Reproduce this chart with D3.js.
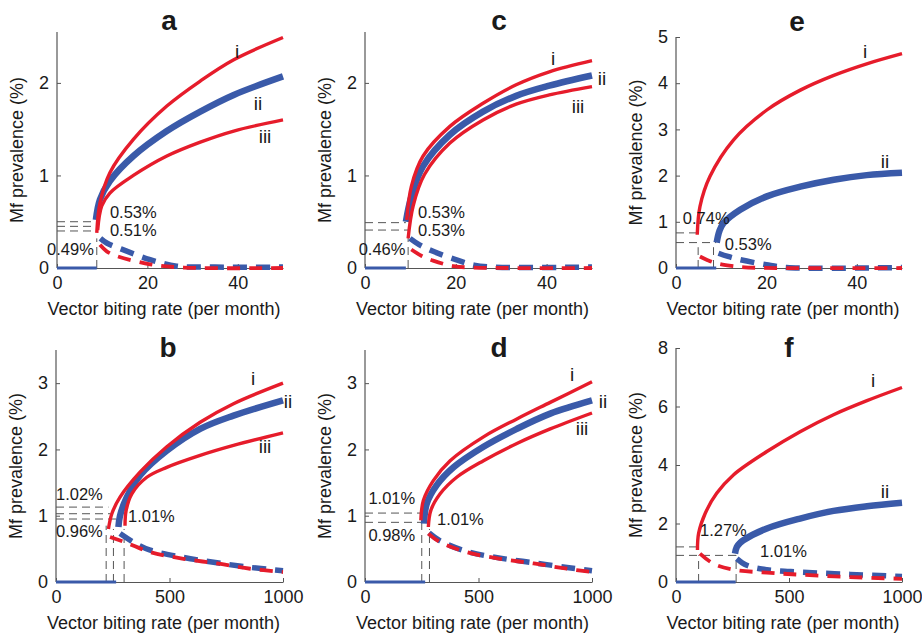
<!DOCTYPE html>
<html><head><meta charset="utf-8">
<script src="https://cdn.jsdelivr.net/npm/d3@7"></script>
<style>
body{margin:0;background:#fff;}
text{font-family:"Liberation Sans",Arial,sans-serif;fill:#1a1a1a;}
</style></head>
<body><svg id="chart" width="922" height="633"></svg>
<script>
// ---------- DATA ----------
const panelNames = ["a","b","c","d","e","f"];
const xTicksMonth = [0, 20, 40];
const xTicksBig = [0, 500, 1000];
const yTicksA = [0, 1, 2];
const yTicksB = [0, 1, 2, 3];
const yTicksE = [0, 1, 2, 3, 4, 5];
const yTicksF = [0, 2, 4, 6, 8];

// panel a
const aI   = [[8.8,0.38],[9.5,0.70],[11.7,1.03],[16.9,1.39],[24.3,1.75],[31.7,2.02],[39.1,2.25],[50,2.49]];
const aII  = [[8.6,0.52],[9.5,0.74],[11.7,0.94],[16.9,1.21],[24.3,1.48],[31.7,1.69],[39.1,1.87],[50,2.07]];
const aIII = [[9.0,0.41],[9.9,0.67],[11.7,0.81],[16.9,1.00],[24.3,1.21],[31.7,1.36],[39.1,1.48],[50,1.60]];
const aUnstBlue = [[9.6,0.32],[11,0.27],[15,0.19],[20.6,0.09],[26.5,0.02],[35,0.01],[50,0.01]];
const aUnstRed  = [[9.5,0.25],[11,0.18],[13.2,0.13],[20.6,0.04],[28,0.005],[50,0.0]];
const aZero = [[0,0],[8.8,0]];
const aGuideH = [[0.50,8.6],[0.45,8.8],[0.40,9.0]];
const aGuideV = [[8.8,0.32]];
const aLabels = [["0.53%",0.59],["0.51%",0.39],["0.49%",0.19]];

// panel c
const cI   = [[9.2,0.52],[10.2,0.88],[12.8,1.21],[18.7,1.53],[26,1.78],[33.3,1.98],[40.6,2.12],[50,2.24]];
const cII  = [[9.0,0.50],[10.2,0.77],[12.8,1.10],[18.7,1.44],[26,1.69],[33.3,1.86],[40.6,1.97],[50,2.08]];
const cIII = [[9.5,0.32],[10.6,0.67],[13.1,1.01],[18.7,1.35],[26,1.60],[33.3,1.77],[40.6,1.87],[50,1.96]];
const cUnstBlue = [[9.9,0.32],[12,0.25],[15,0.18],[20,0.09],[24,0.03],[28,0.01],[50,0.01]];
const cUnstRed  = [[10.2,0.20],[12.5,0.13],[15,0.08],[19.5,0.02],[24,0.005],[50,0.0]];
const cZero = [[0,0],[9.0,0]];
const cGuideH = [[0.49,9.0],[0.41,9.5]];
const cGuideV = [[9.5,0.41]];
const cLabels = [["0.53%",0.59],["0.53%",0.39],["0.46%",0.19]];

// panel e
const eI   = [[4.7,0.72],[5.3,1.33],[7.5,1.98],[12.7,2.77],[20.1,3.42],[27.5,3.85],[34.9,4.17],[42.2,4.42],[50,4.64]];
const eII  = [[9.0,0.55],[9.6,0.80],[10.5,0.97],[14.2,1.26],[20.1,1.55],[27.5,1.76],[34.9,1.91],[42.2,2.01],[50,2.06]];
const eUnstRed  = [[5.3,0.25],[7,0.17],[9,0.10],[12.7,0.04],[16,0.01],[50,0.0]];
const eUnstBlue = [[9.4,0.32],[11.5,0.25],[14.2,0.18],[20,0.07],[24.5,0.01],[50,0.01]];
const eZero = [[0,0],[8.9,0]];
const eGuideH = [[0.76,4.7],[0.55,8.9]];
const eGuideV = [[4.9,0.45],[8.3,0.45]];
const eLabels = [["0.74%",1.04],["0.53%",0.48]];

// panel b
const bI   = [[231,0.80],[246,1.03],[282,1.28],[371,1.66],[488,2.04],[635,2.41],[782,2.69],[1000,3.0]];
const bII  = [[275,0.83],[282,1.00],[312,1.28],[371,1.61],[488,1.98],[635,2.31],[782,2.51],[1000,2.74]];
const bIII = [[304,0.85],[309,1.08],[334,1.33],[400,1.58],[488,1.73],[635,1.91],[782,2.06],[1000,2.25]];
const bUnstRed  = [[238,0.68],[312,0.59],[415,0.45],[562,0.35],[709,0.28],[856,0.20],[1000,0.15]];
const bUnstBlue = [[282,0.73],[341,0.60],[415,0.48],[562,0.37],[709,0.29],[856,0.22],[1000,0.17]];
const bZero = [[0,0],[265,0]];
const bGuideH = [[1.13,231],[1.03,240],[0.95,275]];
const bGuideV = [[221,0.85],[253,0.80],[300,0.80]];
const bLabels = [["1.02%",1.31],["0.96%",0.75]];
const bLabelR = [["1.01%",0.97]];

// panel d
const dI   = [[246,0.93],[257,1.23],[301,1.53],[375,1.83],[522,2.19],[669,2.46],[816,2.71],[1000,3.02]];
const dII  = [[260,0.88],[272,1.18],[316,1.46],[390,1.73],[522,2.04],[669,2.31],[816,2.54],[1000,2.74]];
const dIII = [[279,0.83],[290,1.08],[331,1.33],[404,1.58],[522,1.83],[669,2.09],[816,2.31],[1000,2.55]];
const dUnstRed  = [[279,0.73],[331,0.60],[449,0.45],[596,0.35],[743,0.28],[890,0.20],[1000,0.15]];
const dUnstBlue = [[282,0.74],[331,0.62],[449,0.46],[596,0.36],[743,0.29],[890,0.22],[1000,0.17]];
const dZero = [[0,0],[265,0]];
const dGuideH = [[1.04,246],[0.90,260]];
const dGuideV = [[250,0.90],[284,0.80]];
const dLabels = [["1.01%",1.24],["0.98%",0.68]];
const dLabelR = [["1.01%",0.92]];

// panel f
const fI   = [[95,1.09],[100,1.66],[129,2.34],[180,3.03],[254,3.66],[402,4.46],[549,5.14],[697,5.72],[845,6.20],[1000,6.65]];
const fII  = [[261,0.97],[269,1.20],[284,1.34],[298,1.43],[402,1.83],[549,2.17],[697,2.43],[845,2.59],[1000,2.71]];
const fUnstRed  = [[106,0.97],[165,0.63],[254,0.42],[402,0.32],[549,0.25],[771,0.17],[1000,0.11]];
const fUnstBlue = [[269,0.80],[313,0.57],[402,0.42],[549,0.34],[771,0.26],[1000,0.19]];
const fZero = [[0,0],[264,0]];
const fGuideH = [[1.20,100],[0.91,270]];
const fGuideV = [[100,0.91],[266,0.91]];
const fLabels = [["1.27%",1.71],["1.01%",0.99]];

// ---------- DRAWING ----------
const RED = "#e61c2b", BLUE = "#3a5aa9", GREY = "#555";
const svg = d3.select("#chart");

const panels = [
  {name:"a", L:57, R:283, B:268, T:32, xd:50, yd:2.55, xt:xTicksMonth, yt:yTicksA,
   I:aI, II:aII, III:aIII, uR:aUnstRed, uB:aUnstBlue, z:aZero, gh:aGuideH, gv:aGuideV,
   labs:aLabels, labX:[11.7,11.7,-2.2], labIdx:[["i",237,53],["ii",258,105],["iii",265,138]], tx:169, ty:30},
  {name:"c", L:365, R:592, B:268, T:32, xd:50, yd:2.55, xt:xTicksMonth, yt:yTicksA,
   I:cI, II:cII, III:cIII, uR:cUnstRed, uB:cUnstBlue, z:cZero, gh:cGuideH, gv:cGuideV,
   labs:cLabels, labX:[11.7,11.7,-1.4], labIdx:[["i",553,60],["ii",602,80],["iii",578,108]], tx:499, ty:30},
  {name:"e", L:676, R:902, B:268, T:37, xd:50, yd:5, xt:xTicksMonth, yt:yTicksE,
   I:eI, II:eII, uR:eUnstRed, uB:eUnstBlue, z:eZero, gh:eGuideH, gv:eGuideV,
   labs:eLabels, labX:[1.5,10.8], labIdx:[["i",865,53],["ii",885,163]], tx:797, ty:31},
  {name:"b", L:56, R:283, B:582, T:350, xd:1000, yd:3.5, xt:xTicksBig, yt:yTicksB,
   I:bI, II:bII, III:bIII, uR:bUnstRed, uB:bUnstBlue, z:bZero, gh:bGuideH, gv:bGuideV,
   labs:bLabels, labX:[0,0], labR:bLabelR, labRX:317, labIdx:[["i",253,380],["ii",288,403],["iii",265,448]], tx:168, ty:357},
  {name:"d", L:365, R:592, B:582, T:350, xd:1000, yd:3.5, xt:xTicksBig, yt:yTicksB,
   I:dI, II:dII, III:dIII, uR:dUnstRed, uB:dUnstBlue, z:dZero, gh:dGuideH, gv:dGuideV,
   labs:dLabels, labX:[15,15], labR:dLabelR, labRX:317, labIdx:[["i",572,376],["ii",603,403],["iii",582,430]], tx:499, ty:357},
  {name:"f", L:676, R:902, B:582, T:348, xd:1000, yd:8, xt:xTicksBig, yt:yTicksF,
   I:fI, II:fII, uR:fUnstRed, uB:fUnstBlue, z:fZero, gh:fGuideH, gv:fGuideV,
   labs:fLabels, labX:[106,372], labIdx:[["i",873,382],["ii",885,493]], tx:789, ty:357}
];

panels.forEach(p => {
  const x = d3.scaleLinear().domain([0, p.xd]).range([p.L, p.R]);
  const y = d3.scaleLinear().domain([0, p.yd]).range([p.B, p.T]);
  const g = svg.append("g");
  const line = d3.line().x(d => x(d[0])).y(d => y(d[1])).curve(d3.curveCatmullRom.alpha(0.5));

  // guides
  p.gh.forEach(h => g.append("line").attr("x1", x(0)).attr("x2", x(h[1]))
      .attr("y1", y(h[0])).attr("y2", y(h[0]))
      .attr("stroke", GREY).attr("stroke-width", 1).attr("stroke-dasharray", "8,5"));
  p.gv.forEach(v => g.append("line").attr("x1", x(v[0])).attr("x2", x(v[0]))
      .attr("y1", y(0)).attr("y2", y(v[1]))
      .attr("stroke", GREY).attr("stroke-width", 1).attr("stroke-dasharray", "8,5"));

  // axes
  const fmt = d3.format("d");
  const xa = d3.axisBottom(x).tickValues(p.xt).tickFormat(fmt).tickSizeInner(-4).tickSizeOuter(0).tickPadding(8);
  const ya = d3.axisLeft(y).tickValues(p.yt).tickFormat(fmt).tickSizeInner(-4).tickSizeOuter(0).tickPadding(8);
  const gx = g.append("g").attr("transform", `translate(0,${p.B})`).call(xa);
  const gy = g.append("g").attr("transform", `translate(${p.L},0)`).call(ya);
  [gx, gy].forEach(a => {
    a.select(".domain").attr("stroke", GREY).attr("stroke-width", 1.2);
    a.selectAll(".tick line").attr("stroke", GREY);
    a.selectAll(".tick text").attr("font-size", 18).attr("fill", "#1a1a1a")
      .style("font-family", "'Liberation Sans',Arial,sans-serif");
  });
  gy.select(".domain").attr("d", `M0,${p.B}V${p.T}`);

  // zero stable line
  g.append("path").datum(p.z).attr("d", line).attr("fill", "none")
    .attr("stroke", BLUE).attr("stroke-width", 3);

  // unstable dashed
  g.append("path").datum(p.uB).attr("d", line).attr("fill", "none")
    .attr("stroke", BLUE).attr("stroke-width", 5.5).attr("stroke-dasharray", "14,9");
  g.append("path").datum(p.uR).attr("d", line).attr("fill", "none")
    .attr("stroke", RED).attr("stroke-width", 3.8).attr("stroke-dasharray", "13,9");

  // stable branches
  g.append("path").datum(p.II).attr("d", line).attr("fill", "none")
    .attr("stroke", BLUE).attr("stroke-width", 6.5).attr("stroke-linecap", "butt");
  g.append("path").datum(p.I).attr("d", line).attr("fill", "none")
    .attr("stroke", RED).attr("stroke-width", 3.4);
  if (p.III) g.append("path").datum(p.III).attr("d", line).attr("fill", "none")
    .attr("stroke", RED).attr("stroke-width", 3.4);

  // value labels
  p.labs.forEach((l, i) => g.append("text").attr("x", x(p.labX[i])).attr("y", y(l[1]))
      .attr("font-size", 16.5).attr("dominant-baseline", "middle").text(l[0]));
  if (p.labR) p.labR.forEach(l => g.append("text").attr("x", x(p.labRX)).attr("y", y(l[1]))
      .attr("font-size", 16.5).attr("dominant-baseline", "middle").text(l[0]));

  // curve labels
  p.labIdx.forEach(l => g.append("text").attr("x", l[1]).attr("y", l[2])
      .attr("font-size", 19).attr("text-anchor", "middle").attr("dominant-baseline", "middle").text(l[0]));

  // panel title
  g.append("text").attr("x", p.tx).attr("y", p.ty).attr("text-anchor", "middle")
    .attr("font-size", 28).attr("font-weight", "bold").text(p.name);

  // axis titles
  g.append("text").attr("x", (p.L + p.R) / 2 - 6).attr("y", p.B + 47)
    .attr("text-anchor", "middle").attr("font-size", 18).text("Vector biting rate (per month)");
  g.append("text").attr("transform", `translate(${p.L - 34},${(p.B + p.T) / 2}) rotate(-90)`)
    .attr("text-anchor", "middle").attr("font-size", 18).text("Mf prevalence (%)");
});
</script></body></html>
